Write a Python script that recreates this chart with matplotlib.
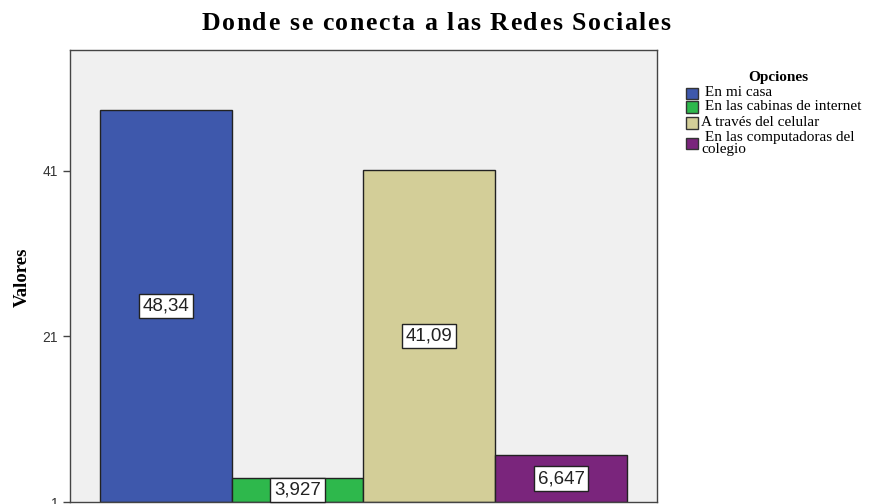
import matplotlib
matplotlib.use("Agg")
import matplotlib.pyplot as plt
from matplotlib.patches import Rectangle
from matplotlib.font_manager import FontProperties

categories = ["En mi casa", "En las cabinas de internet", "A través del celular",
              "En las computadoras del colegio"]
legend_labels = [" En mi casa", " En las cabinas de internet", "A través del celular",
                 " En las computadoras del\ncolegio"]
values = [48.34, 3.927, 41.09, 6.647]
value_labels = ["48,34", "3,927", "41,09", "6,647"]
colors = ["#3e58ac", "#2eb84c", "#d3ce98", "#7a257c"]
yticks = [1, 21, 41]
base = 1
title = "Donde se conecta a las Redes Sociales"

W, H = 878, 504
fig = plt.figure(figsize=(W / 100, H / 100), dpi=100)
ax = fig.add_axes([70 / W, 1 - 502 / H, (657 - 70) / W, (502 - 50) / H])
ax.set_facecolor("#f0f0f0")

x = list(range(len(values)))
heights = [v - base for v in values]
ax.bar(x, heights, bottom=base, width=1.0, color=colors, edgecolor="#222222", linewidth=1.0, zorder=2)

for xi, v, lab in zip(x, values, value_labels):
    ax.text(xi, (v + base) / 2, lab, ha="center", va="center", fontsize=13.5,
            family="Liberation Sans", color="#222222", zorder=3,
            bbox=dict(boxstyle="square,pad=0.2", fc="white", ec="#222222", lw=1.0))

ax.set_xlim(-0.728, 3.728)
ax.set_ylim(base, 55.6)
ax.set_xticks([])
ax.set_yticks(yticks)
ax.set_yticklabels([str(t) for t in yticks], fontsize=10, family="Liberation Sans")
ax.tick_params(axis="y", direction="out", length=5, width=1, colors="#444444", labelcolor="#333333")
for s in ax.spines.values():
    s.set_color("#444444")
    s.set_linewidth(1.0)

fig.text(22 / W, 1 - 277 / H, "Valores", rotation=90, ha="center", va="center",
         family="Liberation Serif", fontweight="bold", fontsize=13.5)

# Title with letter spacing
renderer = fig.canvas.get_renderer()
tprop = FontProperties(family="Liberation Serif", weight="bold", size=18.5)

def text_width(s, prop):
    t = fig.text(0, 0, s, fontproperties=prop)
    w = t.get_window_extent(renderer).width
    t.remove()
    return w

spacing = 1.6
total = text_width(title, tprop) + spacing * (len(title) - 1)
x0 = 436 - total / 2
for i, ch in enumerate(title):
    if ch == " ":
        continue
    xr = x0 + text_width(title[:i + 1], tprop) + spacing * i
    fig.text(xr / W, 1 - 23 / H, ch, ha="right", va="center", fontproperties=tprop)

# Legend (manual)
lprop = FontProperties(family="Liberation Serif", size=11)
fig.text(778 / W, 1 - 77 / H, "Opciones", ha="center", va="center",
         family="Liberation Serif", fontweight="bold", fontsize=11)
sq_centers = [93.5, 107, 123, 143]
text_y = [[93], [107], [123], [138, 150]]
for c, lab, yc, tys in zip(colors, legend_labels, sq_centers, text_y):
    fig.add_artist(Rectangle(((686) / W, 1 - (yc + 5.5) / H), 12 / W, 11 / H,
                             transform=fig.transFigure, facecolor=c, edgecolor="#333333", lw=1.0))
    for line, ty in zip(lab.split("\n"), tys):
        fig.text(701 / W, 1 - ty / H, line, ha="left", va="center", fontproperties=lprop)

fig.savefig("out.png", dpi=100)
